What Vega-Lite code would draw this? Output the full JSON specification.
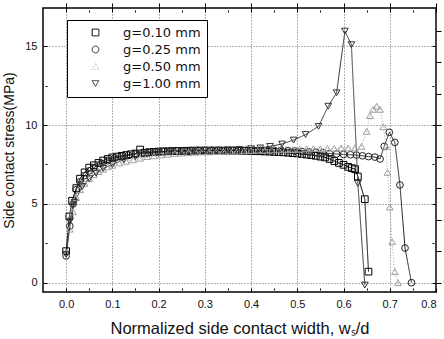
{
  "$schema": "https://vega.github.io/schema/vega-lite/v6.json",
  "width": 393,
  "height": 284,
  "autosize": "none",
  "padding": {"left": 43, "top": 8, "right": 8, "bottom": 47},
  "background": "white",
  "config": {
    "view": {"stroke": "#000", "strokeWidth": 1.5},
    "font": "Liberation Sans",
    "axis": {"domain": false, "labelFont": "Liberation Sans", "labelFontSize": 11, "labelColor": "#111", "titleFont": "Liberation Sans", "titleFontWeight": "normal", "titleColor": "#111", "tickColor": "#000", "tickWidth": 1},
    "legend": {"padding": 6, "rowPadding": 3, "strokeColor": "#000", "fillColor": "#fff", "labelFont": "DejaVu Sans", "labelFontSize": 13, "labelColor": "#111", "symbolOffset": 16, "labelOffset": 21, "labelLimit": 200, "symbolStrokeWidth": 1, "symbolSize": 45}
  },
  "data": {"values": [
    {"g":"g=0.10 mm","x":0,"y":2.0},{"g":"g=0.10 mm","x":0.007,"y":4.2},{"g":"g=0.10 mm","x":0.013,"y":5.2},{"g":"g=0.10 mm","x":0.022,"y":6.0},{"g":"g=0.10 mm","x":0.03,"y":6.6},{"g":"g=0.10 mm","x":0.04,"y":7.0},{"g":"g=0.10 mm","x":0.05,"y":7.3},{"g":"g=0.10 mm","x":0.06,"y":7.45},{"g":"g=0.10 mm","x":0.07,"y":7.6},{"g":"g=0.10 mm","x":0.08,"y":7.75},{"g":"g=0.10 mm","x":0.09,"y":7.85},{"g":"g=0.10 mm","x":0.1,"y":7.95},{"g":"g=0.10 mm","x":0.11,"y":8.0},{"g":"g=0.10 mm","x":0.12,"y":8.05},{"g":"g=0.10 mm","x":0.13,"y":8.1},{"g":"g=0.10 mm","x":0.14,"y":8.15},{"g":"g=0.10 mm","x":0.15,"y":8.2},{"g":"g=0.10 mm","x":0.16,"y":8.45},{"g":"g=0.10 mm","x":0.17,"y":8.25},{"g":"g=0.10 mm","x":0.18,"y":8.28},{"g":"g=0.10 mm","x":0.19,"y":8.3},{"g":"g=0.10 mm","x":0.2,"y":8.32},{"g":"g=0.10 mm","x":0.21,"y":8.33},{"g":"g=0.10 mm","x":0.22,"y":8.34},{"g":"g=0.10 mm","x":0.23,"y":8.35},{"g":"g=0.10 mm","x":0.24,"y":8.35},{"g":"g=0.10 mm","x":0.25,"y":8.36},{"g":"g=0.10 mm","x":0.26,"y":8.37},{"g":"g=0.10 mm","x":0.27,"y":8.37},{"g":"g=0.10 mm","x":0.28,"y":8.38},{"g":"g=0.10 mm","x":0.29,"y":8.38},{"g":"g=0.10 mm","x":0.3,"y":8.38},{"g":"g=0.10 mm","x":0.31,"y":8.38},{"g":"g=0.10 mm","x":0.32,"y":8.38},{"g":"g=0.10 mm","x":0.33,"y":8.38},{"g":"g=0.10 mm","x":0.34,"y":8.38},{"g":"g=0.10 mm","x":0.35,"y":8.38},{"g":"g=0.10 mm","x":0.36,"y":8.38},{"g":"g=0.10 mm","x":0.37,"y":8.38},{"g":"g=0.10 mm","x":0.38,"y":8.37},{"g":"g=0.10 mm","x":0.39,"y":8.37},{"g":"g=0.10 mm","x":0.4,"y":8.36},{"g":"g=0.10 mm","x":0.41,"y":8.35},{"g":"g=0.10 mm","x":0.42,"y":8.34},{"g":"g=0.10 mm","x":0.43,"y":8.33},{"g":"g=0.10 mm","x":0.44,"y":8.32},{"g":"g=0.10 mm","x":0.45,"y":8.3},{"g":"g=0.10 mm","x":0.46,"y":8.29},{"g":"g=0.10 mm","x":0.47,"y":8.27},{"g":"g=0.10 mm","x":0.48,"y":8.25},{"g":"g=0.10 mm","x":0.49,"y":8.22},{"g":"g=0.10 mm","x":0.5,"y":8.2},{"g":"g=0.10 mm","x":0.51,"y":8.17},{"g":"g=0.10 mm","x":0.52,"y":8.13},{"g":"g=0.10 mm","x":0.53,"y":8.1},{"g":"g=0.10 mm","x":0.54,"y":8.05},{"g":"g=0.10 mm","x":0.55,"y":8.0},{"g":"g=0.10 mm","x":0.56,"y":7.95},{"g":"g=0.10 mm","x":0.57,"y":7.85},{"g":"g=0.10 mm","x":0.58,"y":7.72},{"g":"g=0.10 mm","x":0.59,"y":7.6},{"g":"g=0.10 mm","x":0.6,"y":7.48},{"g":"g=0.10 mm","x":0.61,"y":7.35},{"g":"g=0.10 mm","x":0.618,"y":7.27},{"g":"g=0.10 mm","x":0.625,"y":7.2},{"g":"g=0.10 mm","x":0.631,"y":6.74},{"g":"g=0.10 mm","x":0.646,"y":5.3},{"g":"g=0.10 mm","x":0.654,"y":0.7},
    {"g":"g=0.25 mm","x":0,"y":1.7},{"g":"g=0.25 mm","x":0.008,"y":3.6},{"g":"g=0.25 mm","x":0.015,"y":5.0},{"g":"g=0.25 mm","x":0.022,"y":5.9},{"g":"g=0.25 mm","x":0.03,"y":6.4},{"g":"g=0.25 mm","x":0.04,"y":6.8},{"g":"g=0.25 mm","x":0.05,"y":7.1},{"g":"g=0.25 mm","x":0.06,"y":7.3},{"g":"g=0.25 mm","x":0.075,"y":7.55},{"g":"g=0.25 mm","x":0.09,"y":7.75},{"g":"g=0.25 mm","x":0.105,"y":7.9},{"g":"g=0.25 mm","x":0.12,"y":8.0},{"g":"g=0.25 mm","x":0.135,"y":8.08},{"g":"g=0.25 mm","x":0.15,"y":8.15},{"g":"g=0.25 mm","x":0.165,"y":8.2},{"g":"g=0.25 mm","x":0.18,"y":8.25},{"g":"g=0.25 mm","x":0.195,"y":8.3},{"g":"g=0.25 mm","x":0.21,"y":8.33},{"g":"g=0.25 mm","x":0.225,"y":8.35},{"g":"g=0.25 mm","x":0.24,"y":8.37},{"g":"g=0.25 mm","x":0.255,"y":8.38},{"g":"g=0.25 mm","x":0.27,"y":8.4},{"g":"g=0.25 mm","x":0.285,"y":8.4},{"g":"g=0.25 mm","x":0.3,"y":8.4},{"g":"g=0.25 mm","x":0.315,"y":8.4},{"g":"g=0.25 mm","x":0.33,"y":8.4},{"g":"g=0.25 mm","x":0.345,"y":8.4},{"g":"g=0.25 mm","x":0.36,"y":8.4},{"g":"g=0.25 mm","x":0.375,"y":8.4},{"g":"g=0.25 mm","x":0.39,"y":8.4},{"g":"g=0.25 mm","x":0.405,"y":8.4},{"g":"g=0.25 mm","x":0.42,"y":8.4},{"g":"g=0.25 mm","x":0.435,"y":8.4},{"g":"g=0.25 mm","x":0.45,"y":8.4},{"g":"g=0.25 mm","x":0.465,"y":8.4},{"g":"g=0.25 mm","x":0.48,"y":8.38},{"g":"g=0.25 mm","x":0.495,"y":8.35},{"g":"g=0.25 mm","x":0.51,"y":8.32},{"g":"g=0.25 mm","x":0.525,"y":8.3},{"g":"g=0.25 mm","x":0.54,"y":8.27},{"g":"g=0.25 mm","x":0.555,"y":8.24},{"g":"g=0.25 mm","x":0.57,"y":8.2},{"g":"g=0.25 mm","x":0.585,"y":8.17},{"g":"g=0.25 mm","x":0.6,"y":8.14},{"g":"g=0.25 mm","x":0.615,"y":8.12},{"g":"g=0.25 mm","x":0.628,"y":8.1},{"g":"g=0.25 mm","x":0.641,"y":8.05},{"g":"g=0.25 mm","x":0.654,"y":8.0},{"g":"g=0.25 mm","x":0.668,"y":7.97},{"g":"g=0.25 mm","x":0.679,"y":7.85},{"g":"g=0.25 mm","x":0.688,"y":8.65},{"g":"g=0.25 mm","x":0.699,"y":9.54},{"g":"g=0.25 mm","x":0.711,"y":8.9},{"g":"g=0.25 mm","x":0.722,"y":6.2},{"g":"g=0.25 mm","x":0.733,"y":2.2},{"g":"g=0.25 mm","x":0.747,"y":0.0},
    {"g":"g=0.50 mm","x":0,"y":1.9},{"g":"g=0.50 mm","x":0.008,"y":3.4},{"g":"g=0.50 mm","x":0.015,"y":4.5},{"g":"g=0.50 mm","x":0.022,"y":5.4},{"g":"g=0.50 mm","x":0.03,"y":5.9},{"g":"g=0.50 mm","x":0.04,"y":6.3},{"g":"g=0.50 mm","x":0.05,"y":6.6},{"g":"g=0.50 mm","x":0.06,"y":6.85},{"g":"g=0.50 mm","x":0.07,"y":7.05},{"g":"g=0.50 mm","x":0.08,"y":7.2},{"g":"g=0.50 mm","x":0.09,"y":7.35},{"g":"g=0.50 mm","x":0.1,"y":7.45},{"g":"g=0.50 mm","x":0.115,"y":7.6},{"g":"g=0.50 mm","x":0.13,"y":7.7},{"g":"g=0.50 mm","x":0.145,"y":7.8},{"g":"g=0.50 mm","x":0.16,"y":7.9},{"g":"g=0.50 mm","x":0.175,"y":8.0},{"g":"g=0.50 mm","x":0.19,"y":8.05},{"g":"g=0.50 mm","x":0.205,"y":8.1},{"g":"g=0.50 mm","x":0.22,"y":8.15},{"g":"g=0.50 mm","x":0.235,"y":8.2},{"g":"g=0.50 mm","x":0.25,"y":8.22},{"g":"g=0.50 mm","x":0.265,"y":8.25},{"g":"g=0.50 mm","x":0.28,"y":8.28},{"g":"g=0.50 mm","x":0.295,"y":8.3},{"g":"g=0.50 mm","x":0.31,"y":8.3},{"g":"g=0.50 mm","x":0.325,"y":8.32},{"g":"g=0.50 mm","x":0.34,"y":8.33},{"g":"g=0.50 mm","x":0.355,"y":8.35},{"g":"g=0.50 mm","x":0.37,"y":8.35},{"g":"g=0.50 mm","x":0.385,"y":8.37},{"g":"g=0.50 mm","x":0.4,"y":8.38},{"g":"g=0.50 mm","x":0.415,"y":8.4},{"g":"g=0.50 mm","x":0.43,"y":8.4},{"g":"g=0.50 mm","x":0.445,"y":8.42},{"g":"g=0.50 mm","x":0.46,"y":8.43},{"g":"g=0.50 mm","x":0.475,"y":8.45},{"g":"g=0.50 mm","x":0.49,"y":8.45},{"g":"g=0.50 mm","x":0.505,"y":8.47},{"g":"g=0.50 mm","x":0.52,"y":8.5},{"g":"g=0.50 mm","x":0.535,"y":8.5},{"g":"g=0.50 mm","x":0.55,"y":8.5},{"g":"g=0.50 mm","x":0.565,"y":8.52},{"g":"g=0.50 mm","x":0.58,"y":8.52},{"g":"g=0.50 mm","x":0.595,"y":8.55},{"g":"g=0.50 mm","x":0.61,"y":8.55},{"g":"g=0.50 mm","x":0.625,"y":8.55},{"g":"g=0.50 mm","x":0.639,"y":8.65},{"g":"g=0.50 mm","x":0.65,"y":9.6},{"g":"g=0.50 mm","x":0.657,"y":10.6},{"g":"g=0.50 mm","x":0.664,"y":11.0},{"g":"g=0.50 mm","x":0.672,"y":11.2},{"g":"g=0.50 mm","x":0.679,"y":11.0},{"g":"g=0.50 mm","x":0.686,"y":9.9},{"g":"g=0.50 mm","x":0.692,"y":8.65},{"g":"g=0.50 mm","x":0.695,"y":7.0},{"g":"g=0.50 mm","x":0.7,"y":4.8},{"g":"g=0.50 mm","x":0.705,"y":2.6},{"g":"g=0.50 mm","x":0.711,"y":0.7},{"g":"g=0.50 mm","x":0.718,"y":0.0},
    {"g":"g=1.00 mm","x":0,"y":1.8},{"g":"g=1.00 mm","x":0.008,"y":3.9},{"g":"g=1.00 mm","x":0.018,"y":5.1},{"g":"g=1.00 mm","x":0.035,"y":6.1},{"g":"g=1.00 mm","x":0.05,"y":6.6},{"g":"g=1.00 mm","x":0.065,"y":6.95},{"g":"g=1.00 mm","x":0.08,"y":7.25},{"g":"g=1.00 mm","x":0.1,"y":7.5},{"g":"g=1.00 mm","x":0.125,"y":7.8},{"g":"g=1.00 mm","x":0.15,"y":8.0},{"g":"g=1.00 mm","x":0.175,"y":8.15},{"g":"g=1.00 mm","x":0.2,"y":8.25},{"g":"g=1.00 mm","x":0.225,"y":8.3},{"g":"g=1.00 mm","x":0.25,"y":8.35},{"g":"g=1.00 mm","x":0.275,"y":8.37},{"g":"g=1.00 mm","x":0.3,"y":8.4},{"g":"g=1.00 mm","x":0.325,"y":8.4},{"g":"g=1.00 mm","x":0.35,"y":8.42},{"g":"g=1.00 mm","x":0.375,"y":8.45},{"g":"g=1.00 mm","x":0.4,"y":8.5},{"g":"g=1.00 mm","x":0.42,"y":8.55},{"g":"g=1.00 mm","x":0.441,"y":8.65},{"g":"g=1.00 mm","x":0.467,"y":8.8},{"g":"g=1.00 mm","x":0.492,"y":9.05},{"g":"g=1.00 mm","x":0.518,"y":9.4},{"g":"g=1.00 mm","x":0.546,"y":9.92},{"g":"g=1.00 mm","x":0.567,"y":11.2},{"g":"g=1.00 mm","x":0.585,"y":12.05},{"g":"g=1.00 mm","x":0.603,"y":15.96},{"g":"g=1.00 mm","x":0.617,"y":15.1},{"g":"g=1.00 mm","x":0.631,"y":6.3},{"g":"g=1.00 mm","x":0.646,"y":-0.15}
  ]},
  "resolve": {"axis": {"x": "independent", "y": "independent"}},
  "layer": [
    {
      "mark": {"type": "line", "strokeWidth": 1},
      "encoding": {
        "x": {"field": "x", "type": "quantitative", "scale": {"domain": [-0.05, 0.8], "nice": false, "zero": false},
          "title": "Normalized side contact width, wₛ/d",
          "axis": {"orient": "bottom", "offset": -4, "values": [0,0.05,0.1,0.15,0.2,0.25,0.3,0.35,0.4,0.45,0.5,0.55,0.6,0.65,0.7,0.75,0.8],
            "labelExpr": "abs(datum.value*10 - round(datum.value*10)) < 0.001 ? format(datum.value, '.1f') : ''",
            "tickSize": {"condition": {"test": "abs(datum.value*10 - round(datum.value*10)) < 0.001", "value": 4}, "value": 2},
            "labelPadding": 6, "titleFontSize": 16.5, "titlePadding": 11,
            "grid": true, "gridDash": [1, 2], "gridColor": "#666", "gridWidth": 1,
            "gridOpacity": {"condition": {"test": "abs(datum.value*10 - round(datum.value*10)) < 0.001", "value": 1}, "value": 0}}},
        "y": {"field": "y", "type": "quantitative", "scale": {"domain": [-0.59, 17.43], "nice": false, "zero": false},
          "title": "Side contact stress(MPa)",
          "axis": {"orient": "left", "offset": -4, "values": [0,2.5,5,7.5,10,12.5,15],
            "labelExpr": "datum.value % 5 == 0 ? format(datum.value, 'd') : ''",
            "tickSize": {"condition": {"test": "datum.value % 5 == 0", "value": 4}, "value": 2},
            "labelPadding": 6, "titleFontSize": 14, "titlePadding": 8,
            "grid": true, "gridDash": [1, 2], "gridColor": "#666", "gridWidth": 1,
            "gridOpacity": {"condition": {"test": "datum.value % 5 == 0", "value": 1}, "value": 0}}},
        "color": {"field": "g", "type": "nominal", "title": null,
          "scale": {"domain": ["g=0.10 mm","g=0.25 mm","g=0.50 mm","g=1.00 mm"], "range": ["#000000","#222222","#a0a0a0","#333333"]},
          "legend": {"orient": "none", "legendX": 24, "legendY": 12}},
        "strokeDash": {"field": "g", "type": "nominal", "title": null,
          "scale": {"domain": ["g=0.10 mm","g=0.25 mm","g=0.50 mm","g=1.00 mm"], "range": [[1,0],[1,0],[1,2],[1,0]]},
          "legend": {"orient": "none", "legendX": 24, "legendY": 12}}
      }
    },
    {
      "mark": {"type": "point", "filled": false, "size": 45, "strokeWidth": 1, "opacity": 1},
      "encoding": {
        "x": {"field": "x", "type": "quantitative"},
        "y": {"field": "y", "type": "quantitative"},
        "color": {"field": "g", "type": "nominal", "title": null, "legend": {"orient": "none", "legendX": 24, "legendY": 12}},
        "shape": {"field": "g", "type": "nominal", "title": null,
          "scale": {"domain": ["g=0.10 mm","g=0.25 mm","g=0.50 mm","g=1.00 mm"], "range": ["square","circle","triangle-up","triangle-down"]},
          "legend": {"orient": "none", "legendX": 24, "legendY": 12}}
      }
    },
    {
      "mark": {"type": "point", "opacity": 0},
      "encoding": {
        "x": {"field": "x", "type": "quantitative",
          "axis": {"orient": "top", "offset": -4, "title": null, "labels": false, "grid": false,
            "values": [0,0.05,0.1,0.15,0.2,0.25,0.3,0.35,0.4,0.45,0.5,0.55,0.6,0.65,0.7,0.75,0.8],
            "tickSize": {"condition": {"test": "abs(datum.value*10 - round(datum.value*10)) < 0.001", "value": 4}, "value": 2}}},
        "y": {"field": "y", "type": "quantitative",
          "axis": {"orient": "right", "offset": -4, "title": null, "labels": false, "grid": false,
            "values": [0,2.5,5,7.5,10,12.5,15],
            "tickSize": {"condition": {"test": "datum.value % 5 == 0", "value": 4}, "value": 2}}}
      }
    }
  ]
}
